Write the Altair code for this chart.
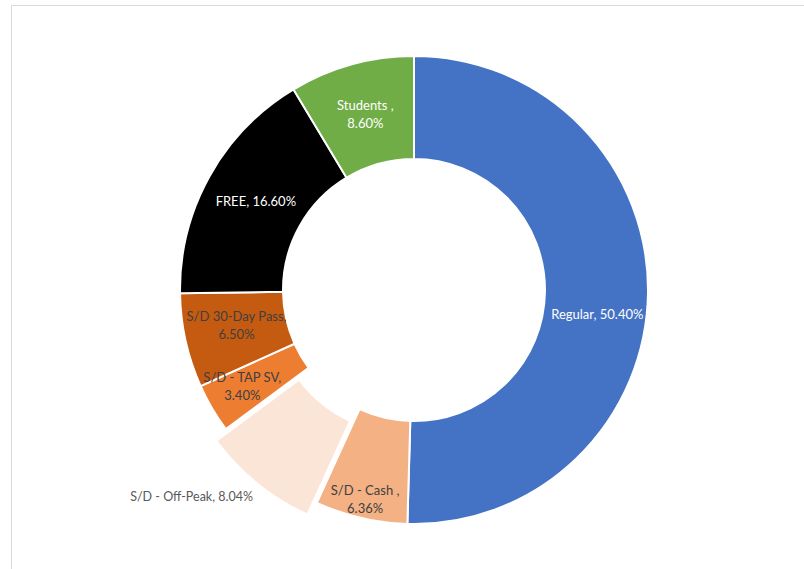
import math
import altair as alt
import pandas as pd

# ---- data ----
categories = ["Regular", "S/D - Cash ", "S/D - Off-Peak", "S/D - TAP SV",
              "S/D 30-Day Pass", "FREE", "Students "]
shares = [50.40, 6.36, 8.04, 3.40, 6.50, 16.60, 8.60]

# ---- styles / layout ----
slice_colors = ["#4472C4", "#F4B183", "#FBE5D6", "#ED7D31", "#C55A11", "#000000", "#70AD47"]
wrapped = ["S/D - Cash ", "S/D - TAP SV", "S/D 30-Day Pass", "Students "]
text_colors = {"Regular": "#FFFFFF", "FREE": "#FFFFFF", "Students ": "#FFFFFF",
               "S/D - Off-Peak": "#595959"}
label_radius = {"Regular": 185, "S/D - Cash ": 216, "S/D - Off-Peak": 262,
                "S/D - TAP SV": 197, "S/D 30-Day Pass": 181, "FREE": 181, "Students ": 182}
label_angle_shift = {"Regular": 7.0, "S/D 30-Day Pass": 1.2, "S/D - TAP SV": 1.0,
                     "S/D - Off-Peak": -1.1}  # degrees
exploded = "S/D - Off-Peak"
CX, CY = 414, 290
R_OUT, R_IN = 234, 131
EXPLODE = 15
FONT = "Lato"
FS = 13

total = sum(shares)
df = pd.DataFrame({"category": categories, "share": shares, "color": slice_colors})
df["end"] = df["share"].cumsum()
df["start"] = df["end"] - df["share"]
df["mid"] = (df["start"] + df["end"]) / 2
df["lmid"] = df["mid"] + df["category"].map(lambda c: label_angle_shift.get(c, 0.0)) / 360 * total
df["lrad"] = df["category"].map(label_radius)
df["tcolor"] = df["category"].map(lambda c: text_colors.get(c, "#404040"))
df["label"] = [f"{c},{chr(10) if c in wrapped else ' '}{s:.2f}%" for c, s in zip(categories, shares)]

theta_scale = alt.Scale(domain=[0, total], range=[0, 2 * math.pi])

base = alt.Chart(df)

pie = base.transform_filter(alt.datum.category != exploded).mark_arc(
    radius=R_OUT, radius2=R_IN, stroke="white", strokeWidth=2
).encode(
    theta=alt.Theta("start:Q", scale=theta_scale),
    theta2="end:Q",
    color=alt.Color("color:N", scale=None),
    x=alt.value(CX), y=alt.value(CY),
)

mid_ex = float(df.loc[df["category"] == exploded, "mid"].iloc[0]) / total * 2 * math.pi
ex_cx = CX + EXPLODE * math.sin(mid_ex)
ex_cy = CY - EXPLODE * math.cos(mid_ex)

pie_ex = base.transform_filter(alt.datum.category == exploded).mark_arc(
    radius=R_OUT, radius2=R_IN, stroke="white", strokeWidth=2
).encode(
    theta=alt.Theta("start:Q", scale=theta_scale),
    theta2="end:Q",
    color=alt.Color("color:N", scale=None),
    x=alt.value(ex_cx), y=alt.value(ex_cy),
)

def label_layer(filt, fs=FS, **mark_kw):
    return base.transform_filter(filt).mark_text(
        font=FONT, fontSize=fs, lineBreak="\n", lineHeight=18, baseline="middle", **mark_kw
    ).encode(
        theta=alt.Theta("lmid:Q", scale=theta_scale),
        radius=alt.Radius("lrad:Q", scale=None),
        text="label:N",
        color=alt.Color("tcolor:N", scale=None),
        x=alt.value(CX), y=alt.value(CY),
    )

is_wrapped = alt.FieldOneOfPredicate(field="category", oneOf=wrapped)
labels_single = label_layer(
    {"and": [{"not": is_wrapped}, alt.datum.category != exploded]}, align="center")
labels_wrapped = label_layer(is_wrapped, align="center", dy=-9)
labels_out = label_layer(alt.datum.category == exploded, fs=12.5, align="right")

frame = pd.DataFrame({"k": [0]})
top_rule = alt.Chart(frame).mark_rule(color="#D9D9D9", strokeWidth=1).encode(
    x=alt.value(11), x2=alt.value(804), y=alt.value(5.5))
left_rule = alt.Chart(frame).mark_rule(color="#D9D9D9", strokeWidth=1).encode(
    x=alt.value(11.5), y=alt.value(5), y2=alt.value(569))

chart = alt.layer(top_rule, left_rule, pie, pie_ex,
                  labels_single, labels_wrapped, labels_out).properties(
    width=804, height=569, autosize="none", padding=0, background="white"
).configure_view(stroke=None)

chart.save("out.html", embed_options={"renderer": "svg", "actions": False})
